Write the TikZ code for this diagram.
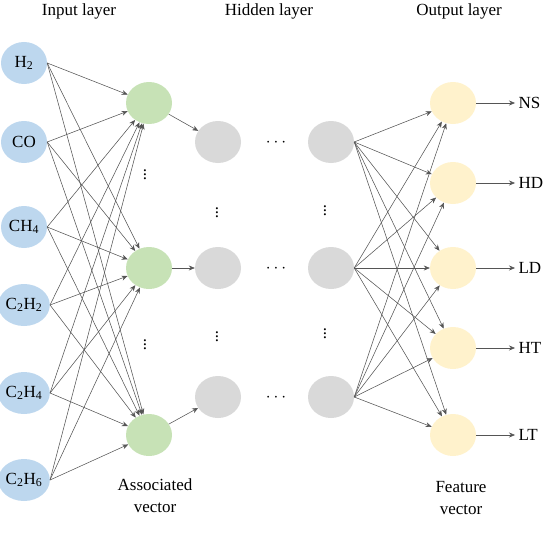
\documentclass[tikz,border=0pt]{standalone}
\usepackage{fontspec}
\setmainfont{Liberation Serif}
\usepackage{xcolor}
\definecolor{nnblue}{RGB}{189,215,238}
\definecolor{nngreen}{RGB}{199,226,182}
\definecolor{nngray}{RGB}{217,217,217}
\definecolor{nnyellow}{RGB}{255,242,204}
\definecolor{nnline}{RGB}{85,85,85}
\usepackage{tikz}
\usetikzlibrary{arrows.meta,positioning,shapes.geometric}

\tikzset{
  neuron/.style={ellipse, minimum width=46pt, minimum height=42pt, inner sep=0pt, font=\fontsize{17}{19}\selectfont},
  conn/.style={-{Stealth[length=6pt,width=5pt]}, nnline, line width=0.55pt},
  title/.style={font=\fontsize{17}{20}\selectfont},
  caption/.style={font=\fontsize{17}{22}\selectfont, align=center},
  dots/.style={inner sep=0pt, font=\fontsize{17}{20}\selectfont}
}

\begin{document}
\begin{tikzpicture}[x=1pt, y=-1pt]
\useasboundingbox (0,0) rectangle (550,551);
% Layer titles
\node[title] (tin) at (79,11) {Input layer};
\node[title] (thid) at (269,11) {Hidden layer};
\node[title] (tout) at (459,11) {Output layer};
% Input layer
\node[neuron, fill=nnblue] (i1) at (24,63) {H\textsubscript{2}};
\node[neuron, fill=nnblue] (i2) at (24,142) {CO};
\node[neuron, fill=nnblue] (i3) at (24,227) {CH\textsubscript{4}};
\node[neuron, fill=nnblue] (i4) at (24,305) {C\textsubscript{2}H\textsubscript{2}};
\node[neuron, fill=nnblue] (i5) at (24,393) {C\textsubscript{2}H\textsubscript{4}};
\node[neuron, fill=nnblue] (i6) at (24,480) {C\textsubscript{2}H\textsubscript{6}};
% Associated vector
\node[neuron, fill=nngreen] (a1) at (149,103) {};
\node[neuron, fill=nngreen] (a2) at (149,268) {};
\node[neuron, fill=nngreen] (a3) at (149,435) {};
\node[dots] (av1) at (145,172) {$\vdots$};
\node[dots] (av2) at (145,342) {$\vdots$};
% Hidden layer
\node[neuron, fill=nngray] (h1) at (218,142) {};
\node[neuron, fill=nngray] (h2) at (218,268) {};
\node[neuron, fill=nngray] (h3) at (218,397) {};
\node[neuron, fill=nngray] (k1) at (331,142) {};
\node[neuron, fill=nngray] (k2) at (331,268) {};
\node[neuron, fill=nngray] (k3) at (331,397) {};
\node[dots] (hv1) at (217,210) {$\vdots$};
\node[dots] (hv2) at (217,334) {$\vdots$};
\node[dots] (kv1) at (325,208) {$\vdots$};
\node[dots] (kv2) at (325,331) {$\vdots$};
\node[dots] (hd1) at (276,143) {$\cdots$};
\node[dots] (hd2) at (276,269) {$\cdots$};
\node[dots] (hd3) at (276,398) {$\cdots$};
% Output layer
\node[neuron, fill=nnyellow] (o1) at (453,103) {};
\node[neuron, fill=nnyellow] (o2) at (453,183) {};
\node[neuron, fill=nnyellow] (o3) at (453,268) {};
\node[neuron, fill=nnyellow] (o4) at (453,348) {};
\node[neuron, fill=nnyellow] (o5) at (453,435) {};
\node[title, anchor=west] (l1) at (515,103) {NS};
\node[title, anchor=west] (l2) at (515,183) {HD};
\node[title, anchor=west] (l3) at (515,268) {LD};
\node[title, anchor=west] (l4) at (515,348) {HT};
\node[title, anchor=west] (l5) at (515,435) {LT};
% Captions
\node[caption] (cap1) at (155,496) {Associated\\vector};
\node[caption] (cap2) at (461,498) {Feature\\vector};
% Connections
\foreach \i in {1,...,6}
  \foreach \j in {1,2,3}
    \draw[conn] (i\i.east) -- (a\j);
\foreach \j in {1,2,3}
  \draw[conn] (a\j) -- (h\j);
\foreach \j in {1,2,3}
  \foreach \k in {1,...,5}
    \draw[conn] (k\j.east) -- (o\k);
\foreach \k in {1,...,5}
  \draw[conn] (o\k.east) -- (l\k.west);
\end{tikzpicture}
\end{document}
